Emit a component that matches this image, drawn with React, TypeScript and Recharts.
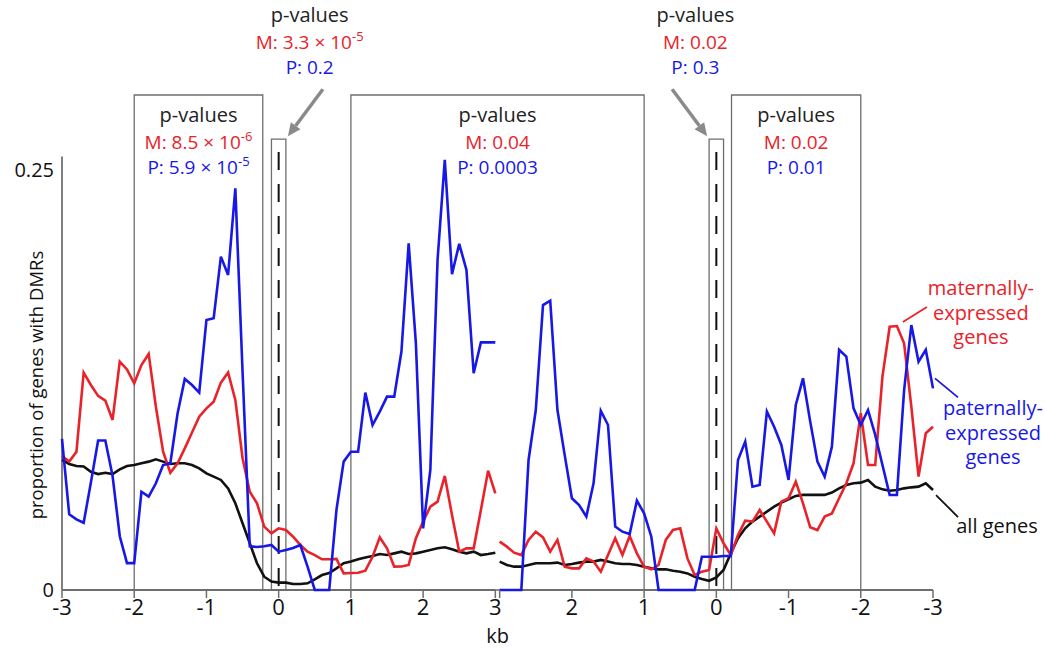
import {
  LineChart,
  Line,
  XAxis,
  YAxis,
  ReferenceArea,
  ReferenceLine,
  ReferenceDot,
} from "recharts";

const FONT = '"Open Sans", "DejaVu Sans", sans-serif';
const RED = "#e8232a";
const BLUE = "#1818e6";
const GREY = "#6e6e6e";

// kb from the gene boundary; left panel runs -3 -> 3, right panel 3 -> -3
const kb = [
  -3, -2.9, -2.8, -2.7, -2.6, -2.5, -2.4, -2.3, -2.2, -2.1, -2, -1.9, -1.8, -1.7, -1.6, -1.5,
  -1.4, -1.3, -1.2, -1.1, -1, -0.9, -0.8, -0.7, -0.6, -0.5, -0.4, -0.3, -0.2, -0.1, 0, 0.1, 0.2,
  0.3, 0.4, 0.5, 0.6, 0.7, 0.8, 0.9, 1, 1.1, 1.2, 1.3, 1.4, 1.5, 1.6, 1.7, 1.8, 1.9, 2, 2.1, 2.2,
  2.3, 2.4, 2.5, 2.6, 2.7, 2.8, 2.9, 3,
];
const kbRight = [...kb].reverse();

// left panel (upstream -> TSS -> gene body)
const patLeft = [
  0.09, 0.045, 0.042, 0.04, 0.064, 0.089, 0.089, 0.068, 0.032, 0.016, 0.016, 0.0585, 0.0556,
  0.0635, 0.0744, 0.0754, 0.105, 0.1256, 0.122, 0.1175, 0.1607, 0.1617, 0.1984, 0.1875, 0.239,
  0.13, 0.026, 0.0256, 0.026, 0.0268, 0.0228, 0.0238, 0.025, 0.0268, 0.0139, 0, 0, 0, 0.0476,
  0.0764, 0.0823, 0.0823, 0.1175, 0.0982, 0.1062, 0.1151, 0.1151, 0.1419, 0.2063, 0.1468, 0.0367,
  0.0714, 0.1964, 0.256, 0.188, 0.206, 0.1905, 0.129, 0.1474, 0.1474, 0.1474,
];
const matLeft = [
  0.0798, 0.0764, 0.0823, 0.1294, 0.122, 0.1155, 0.1127, 0.1012, 0.1359, 0.1313, 0.123, 0.1339,
  0.1405, 0.1091, 0.0823, 0.0698, 0.0754, 0.0843, 0.0937, 0.1032, 0.1081, 0.1121, 0.1234, 0.1294,
  0.1131, 0.0784, 0.0585, 0.0516, 0.0377, 0.0337, 0.0367, 0.0357, 0.0317, 0.0268, 0.0228, 0.0208,
  0.0183, 0.0183, 0.0185, 0.0099, 0.0101, 0.0103, 0.0115, 0.0198, 0.0313, 0.0248, 0.0139, 0.014,
  0.0149, 0.0308, 0.0407, 0.0496, 0.0526, 0.0679, 0.0446, 0.0228, 0.0248, 0.0248, 0.0476, 0.071,
  0.0575,
];
const allLeft = [
  0.0774, 0.075, 0.0738, 0.0735, 0.0704, 0.069, 0.0698, 0.069, 0.0718, 0.0738, 0.0744, 0.0754,
  0.0764, 0.0778, 0.0764, 0.075, 0.0754, 0.0754, 0.0744, 0.0724, 0.0694, 0.0675, 0.0655, 0.0605,
  0.0516, 0.0397, 0.0278, 0.0159, 0.0079, 0.005, 0.0044, 0.0044, 0.0036, 0.0036, 0.004, 0.0063,
  0.0089, 0.0101, 0.0129, 0.0159, 0.0169, 0.0183, 0.0194, 0.0202, 0.0214, 0.0208, 0.0218, 0.0228,
  0.0214, 0.0218, 0.0228, 0.0238, 0.0248, 0.0254, 0.0242, 0.0228, 0.0218, 0.0228, 0.0208, 0.0214,
  0.0222,
];

// right panel (gene body -> TES -> downstream), in kbRight order
const patRight = [
  0, 0, 0, 0, 0.0774, 0.1071, 0.1696, 0.1722, 0.1071, 0.0804, 0.0546, 0.0506, 0.0437, 0.0635,
  0.1067, 0.0982, 0.0377, 0.0347, 0.0333, 0.0532, 0.0456, 0.0317, 0, 0, 0, 0, 0, 0, 0.0198, 0.0198,
  0.0198, 0.0202, 0.0202, 0.0774, 0.0883, 0.0615, 0.0625, 0.1062, 0.0972, 0.0863, 0.0655, 0.1101,
  0.126, 0.1002, 0.0764, 0.0675, 0.0853, 0.1429, 0.1389, 0.1081, 0.0982, 0.1071, 0.0923, 0.0744,
  0.0565, 0.0565, 0.119, 0.1577, 0.1359, 0.1429, 0.12,
];
const matRight = [
  0.0288, 0.0258, 0.0222, 0.0208, 0.0298, 0.0347, 0.0313, 0.0228, 0.0298, 0.0139, 0.0129, 0.0129,
  0.0188, 0.0169, 0.0109, 0.0208, 0.0308, 0.0208, 0.0321, 0.0218, 0.0139, 0.0123, 0.0149, 0.0298,
  0.0357, 0.0367, 0.0188, 0.0089, 0.0109, 0.0119, 0.0367, 0.0278, 0.0208, 0.0327, 0.0413, 0.0407,
  0.0476, 0.0407, 0.0337, 0.0526, 0.0546, 0.0645, 0.0516, 0.0373, 0.0357, 0.0437, 0.0456, 0.0546,
  0.0635, 0.0754, 0.1052, 0.0744, 0.0744, 0.127, 0.1567, 0.1571, 0.1468, 0.1091, 0.0675, 0.0933,
  0.0972,
];
const allRight = [
  0.0169, 0.0149, 0.0139, 0.0139, 0.0149, 0.0159, 0.0159, 0.0159, 0.0163, 0.0149, 0.0155, 0.0163,
  0.0169, 0.0169, 0.0179, 0.0169, 0.0159, 0.0155, 0.0155, 0.0149, 0.0139, 0.0129, 0.0123, 0.0123,
  0.0115, 0.0109, 0.0099, 0.0079, 0.0065, 0.0055, 0.0075, 0.0119, 0.0218, 0.0308, 0.0367, 0.0407,
  0.0437, 0.0466, 0.0496, 0.052, 0.054, 0.056, 0.0566, 0.0566, 0.0566, 0.0566, 0.058, 0.0605,
  0.0625, 0.0635, 0.0639, 0.0655, 0.0615, 0.0599, 0.0591, 0.0595, 0.0605, 0.0611, 0.0615, 0.0635,
  0.0595,
];

const tickKb = [-3, -2, -1, 0, 1, 2, 3];

// p-value annotations: [M mantissa, M exponent, P mantissa, P exponent]
const pUpstream = ["8.5 × 10", "-6", "5.9 × 10", "-5"];
const pTss = ["3.3 × 10", "-5", "0.2", ""];
const pBody = ["0.04", "", "0.0003", ""];
const pTes = ["0.02", "", "0.3", ""];
const pDownstream = ["0.02", "", "0.01", ""];

const GAP = 0.06;
const leftPos = (x: number) => x + 3;
const rightPos = (x: number) => 6 + GAP + (3 - x);
const X_MAX = rightPos(-3);
const Y_TOP = 0.2946;
const SMALL_TOP = 0.2683;

const rows = [
  ...kb.map((x, i) => ({ pos: leftPos(x), mat: matLeft[i], pat: patLeft[i], all: allLeft[i] })),
  { pos: 6 + GAP / 2, mat: null, pat: null, all: null },
  ...kbRight.map((x, i) => ({
    pos: rightPos(x),
    mat: matRight[i],
    pat: patRight[i],
    all: allRight[i],
  })),
];

const ticks = [...tickKb.map(leftPos), ...[...tickKb].reverse().map(rightPos)];

const tickText = (v: number) => {
  if (v <= 6.001) return String(Math.round(v - 3));
  const x = Math.round(3 - (v - 6 - GAP));
  return x === 3 ? "" : String(x);
};

const pText = (mant: string, exp: string) => (
  <>
    {mant}
    {exp && (
      <tspan dy={-8} fontSize={13}>
        {exp}
      </tspan>
    )}
  </>
);

const pBlock = (cx: number, y0: number, vals: string[]) => (
  <g fontFamily={FONT} textAnchor="middle">
    <text x={cx} y={y0} fontSize={20} fill="#222">
      p-values
    </text>
    <text x={cx} y={y0 + 27} fontSize={19} fill={RED}>
      M: {pText(vals[0], vals[1])}
    </text>
    <text x={cx} y={y0 + 52} fontSize={19} fill={BLUE}>
      P: {pText(vals[2], vals[3])}
    </text>
  </g>
);

const boxLabel = (vals: string[]) => (props: any) => {
  const { x, y, width } = props.viewBox;
  return pBlock(x + width / 2, y + 27, vals);
};

const Arrow = ({ x1, y1, x2, y2 }: { x1: number; y1: number; x2: number; y2: number }) => {
  const len = Math.hypot(x2 - x1, y2 - y1);
  const ux = (x2 - x1) / len;
  const uy = (y2 - y1) / len;
  const bx = x2 - ux * 13;
  const by = y2 - uy * 13;
  return (
    <g>
      <line x1={x1} y1={y1} x2={bx} y2={by} stroke="#8a8a8a" strokeWidth={3.5} />
      <polygon
        points={`${x2},${y2} ${bx - uy * 6},${by + ux * 6} ${bx + uy * 6},${by - ux * 6}`}
        fill="#8a8a8a"
      />
    </g>
  );
};

// small boxes around TSS / TES with the p-values floating above
const calloutLabel = (vals: string[], side: number, textDx: number) => (props: any) => {
  const { x, y, width } = props.viewBox;
  const corner = side > 0 ? x + width : x;
  return (
    <g>
      {pBlock(x + width / 2 + textDx, y - 117, vals)}
      <Arrow x1={corner + side * 37} y1={y - 50} x2={corner + side * 2} y2={y - 3} />
    </g>
  );
};

const legendLabel =
  (lines: string[], color: string, dx: number, dy: number, p: number[]) => (props: any) => {
    const { x, y } = props.viewBox;
    return (
      <g fontFamily={FONT} textAnchor="middle" fill={color}>
        <line
          x1={x + p[0]}
          y1={y + p[1]}
          x2={x + p[2]}
          y2={y + p[3]}
          stroke={color}
          strokeWidth={1.8}
        />
        {lines.map((t, i) => (
          <text key={t} x={x + dx} y={y + dy + i * 24.5} fontSize={20}>
            {t}
          </text>
        ))}
      </g>
    );
  };

const yLabel = () => (
  <text
    x={35}
    y={385}
    transform="rotate(-90 35 385)"
    textAnchor="middle"
    dominantBaseline="central"
    fontFamily={FONT}
    fontSize={18.5}
    fill="#111"
  >
    proportion of genes with DMRs
  </text>
);

const box = { fill: "none", stroke: GREY, strokeWidth: 1.3, fillOpacity: 0 };

export default function App() {
  return (
    <div style={{ position: "absolute", left: 0, top: 0 }}>
      <LineChart
        width={1045}
        height={649}
        data={rows}
        margin={{ top: 95, right: 112, bottom: 0, left: 12 }}
      >
        <XAxis
          type="number"
          dataKey="pos"
          domain={[0, X_MAX]}
          ticks={ticks}
          interval={0}
          tickFormatter={tickText}
          axisLine={false}
          tickLine={{ stroke: GREY, strokeWidth: 1.5 }}
          tickSize={8}
          tickMargin={1}
          height={59}
          tick={{ fontSize: 22, fill: "#111", fontFamily: FONT }}
          label={{
            value: "kb",
            position: "insideBottom",
            offset: 6,
            fontSize: 20,
            fill: "#111",
            fontFamily: FONT,
          }}
        />
        <YAxis
          type="number"
          domain={[0, Y_TOP]}
          ticks={[0, 0.25]}
          axisLine={false}
          tickLine={false}
          width={50}
          tick={{ fontSize: 20, fill: "#111", fontFamily: FONT }}
          label={yLabel}
        />

        <ReferenceArea x1={leftPos(-2)} x2={leftPos(-0.22)} y1={0} y2={Y_TOP} {...box} label={boxLabel(pUpstream)} />
        <ReferenceArea x1={leftPos(1)} x2={rightPos(1)} y1={0} y2={Y_TOP} {...box} label={boxLabel(pBody)} />
        <ReferenceArea x1={rightPos(-0.21)} x2={rightPos(-2)} y1={0} y2={Y_TOP} {...box} label={boxLabel(pDownstream)} />
        <ReferenceArea x1={leftPos(-0.1)} x2={leftPos(0.1)} y1={0} y2={SMALL_TOP} {...box} label={calloutLabel(pTss, 1, 31)} />
        <ReferenceArea x1={rightPos(0.1)} x2={rightPos(-0.1)} y1={0} y2={SMALL_TOP} {...box} label={calloutLabel(pTes, -1, -21)} />

        <ReferenceLine
          segment={[{ x: leftPos(0), y: 0.2607 }, { x: leftPos(0), y: 0 }]}
          stroke="#111"
          strokeWidth={2}
          strokeDasharray="18 14"
        />
        <ReferenceLine
          segment={[{ x: rightPos(0), y: 0.2607 }, { x: rightPos(0), y: 0 }]}
          stroke="#111"
          strokeWidth={2}
          strokeDasharray="18 14"
        />

        {/* axis lines, broken between the two panels */}
        <ReferenceLine segment={[{ x: 0, y: 0 }, { x: 0, y: 0.258 }]} stroke="#555" strokeWidth={1.5} />
        <ReferenceLine segment={[{ x: 0, y: 0 }, { x: 6, y: 0 }]} stroke={GREY} strokeWidth={2} />
        <ReferenceLine segment={[{ x: 6 + GAP, y: 0 }, { x: X_MAX, y: 0 }]} stroke={GREY} strokeWidth={2} />

        <Line type="linear" dataKey="all" stroke="#111" strokeWidth={2.6} dot={false} connectNulls={false} isAnimationActive={false} />
        <Line type="linear" dataKey="mat" stroke={RED} strokeWidth={2.6} dot={false} connectNulls={false} isAnimationActive={false} />
        <Line type="linear" dataKey="pat" stroke={BLUE} strokeWidth={2.6} dot={false} connectNulls={false} isAnimationActive={false} />

        <ReferenceDot
          x={rightPos(-2.5)}
          y={matRight[55]}
          r={0}
          stroke="none"
          label={legendLabel(["maternally-", "expressed", "genes"], RED, 84, -31, [6, -4, 30, -19])}
        />
        <ReferenceDot
          x={rightPos(-3)}
          y={patRight[60]}
          r={0}
          stroke="none"
          label={legendLabel(["paternally-", "expressed", "genes"], BLUE, 60, 27, [2, -10, 25, 9])}
        />
        <ReferenceDot
          x={rightPos(-3)}
          y={allRight[60]}
          r={0}
          stroke="none"
          label={legendLabel(["all genes"], "#111", 64, 43, [3, 5, 25, 27])}
        />
      </LineChart>
    </div>
  );
}
